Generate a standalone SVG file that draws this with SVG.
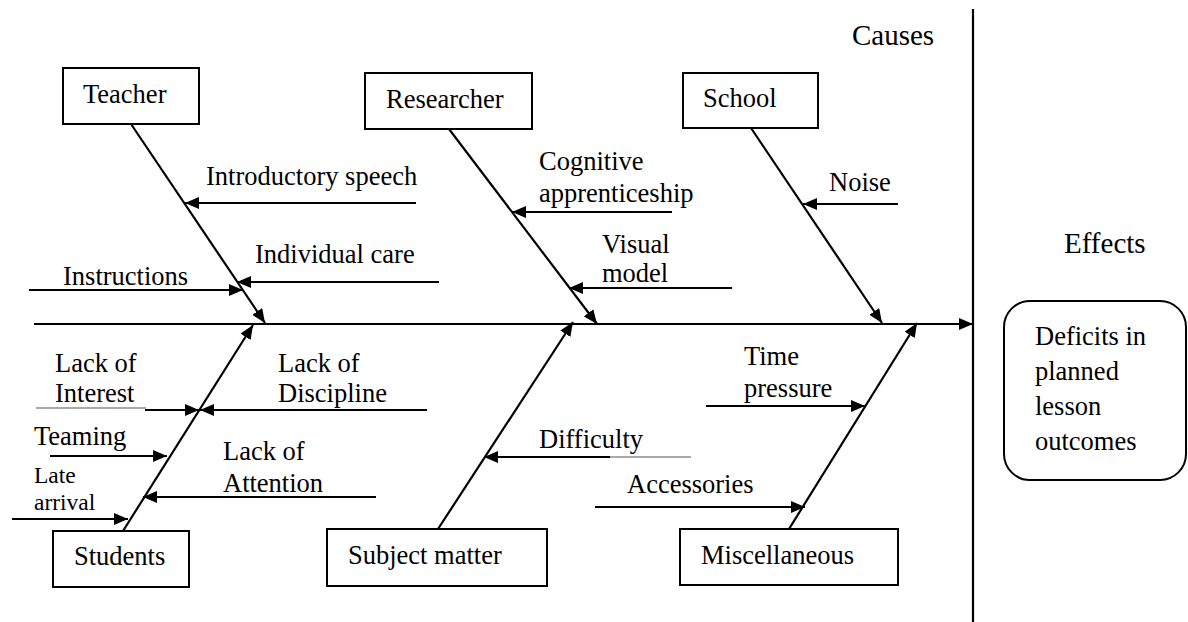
<svg xmlns="http://www.w3.org/2000/svg" width="1188" height="622" viewBox="0 0 1188 622">
<style>
text{font-family:'Liberation Serif','Times New Roman',Tinos,'DejaVu Serif',serif;font-size:26.5px;fill:#000}
.big{font-size:29px}
.sm{font-size:23.5px}
.box{fill:#fff;stroke:#000;stroke-width:2}
.ln{stroke:#000;stroke-width:2.2;fill:none}
.thin{stroke:#555;stroke-width:1.2;fill:none}
</style>
<defs>
<marker id="ah" viewBox="0 0 14 12" refX="14" refY="6" markerWidth="14" markerHeight="12" markerUnits="userSpaceOnUse" orient="auto">
<path d="M0,0 L14,6 L0,12 Z" fill="#000"/>
</marker>
</defs>
<g id="connectors">
<line class="ln" x1="34" y1="324" x2="973" y2="324" marker-end="url(#ah)"/>
<line class="ln" x1="973" y1="9" x2="973" y2="622"/>
<line class="ln" x1="131" y1="124" x2="265" y2="323" marker-end="url(#ah)"/>
<line class="ln" x1="449" y1="129" x2="597" y2="324" marker-end="url(#ah)"/>
<line class="ln" x1="751" y1="128" x2="882" y2="323" marker-end="url(#ah)"/>
<line class="ln" x1="123" y1="531" x2="253" y2="325" marker-end="url(#ah)"/>
<line class="ln" x1="438" y1="529" x2="573" y2="322" marker-end="url(#ah)"/>
<line class="ln" x1="789" y1="529" x2="917" y2="323" marker-end="url(#ah)"/>
<line class="ln" x1="416" y1="203" x2="185" y2="203" marker-end="url(#ah)"/>
<line class="ln" x1="439" y1="282" x2="237" y2="282" marker-end="url(#ah)"/>
<line class="ln" x1="29" y1="290" x2="243" y2="290" marker-end="url(#ah)"/>
<line class="ln" x1="672" y1="212" x2="512" y2="212" marker-end="url(#ah)"/>
<line class="ln" x1="732" y1="288" x2="569" y2="288" marker-end="url(#ah)"/>
<line class="ln" x1="898" y1="204" x2="803" y2="204" marker-end="url(#ah)"/>
<line class="thin" x1="36" y1="408" x2="146" y2="408"/>
<line class="ln" x1="145" y1="410" x2="199" y2="410" marker-end="url(#ah)"/>
<line class="ln" x1="427" y1="410" x2="200" y2="410" marker-end="url(#ah)"/>
<line class="ln" x1="50" y1="456" x2="167" y2="456" marker-end="url(#ah)"/>
<line class="ln" x1="12" y1="519" x2="128" y2="519" marker-end="url(#ah)"/>
<line class="ln" x1="376" y1="497" x2="143" y2="497" marker-end="url(#ah)"/>
<line class="thin" x1="691" y1="457" x2="608" y2="457"/>
<line class="ln" x1="610" y1="457" x2="484" y2="457" marker-end="url(#ah)"/>
<line class="ln" x1="706" y1="406" x2="865" y2="406" marker-end="url(#ah)"/>
<line class="ln" x1="595" y1="507" x2="805" y2="507" marker-end="url(#ah)"/>
</g>
<g id="teacher"><rect class="box" x="63" y="68" width="136" height="56"/><text x="83" y="103">Teacher</text></g>
<g id="researcher"><rect class="box" x="365" y="73" width="167" height="56"/><text x="386" y="108">Researcher</text></g>
<g id="school"><rect class="box" x="683" y="73" width="135" height="55"/><text x="703" y="107">School</text></g>
<g id="students"><rect class="box" x="53" y="531" width="136" height="56"/><text x="74" y="565">Students</text></g>
<g id="subject"><rect class="box" x="327" y="529" width="220" height="57"/><text x="348" y="564">Subject matter</text></g>
<g id="misc"><rect class="box" x="680" y="529" width="218" height="56"/><text x="701" y="564">Miscellaneous</text></g>
<g id="effect"><rect class="box" x="1004" y="301" width="182" height="179" rx="26" ry="26"/>
<text x="1035" y="345">Deficits in</text><text x="1035" y="380">planned</text><text x="1035" y="415">lesson</text><text x="1035" y="450">outcomes</text></g>
<g id="labels">
<text class="big" x="852" y="45">Causes</text>
<text class="big" x="1064" y="253">Effects</text>
<text x="206" y="185">Introductory speech</text>
<text x="255" y="263">Individual care</text>
<text x="63" y="285">Instructions</text>
<text x="539" y="170">Cognitive</text>
<text x="539" y="202">apprenticeship</text>
<text x="602" y="253">Visual</text>
<text x="602" y="282">model</text>
<text x="829" y="191">Noise</text>
<text x="55" y="372">Lack of</text>
<text x="55" y="402">Interest</text>
<text x="278" y="372">Lack of</text>
<text x="278" y="402">Discipline</text>
<text x="34" y="445">Teaming</text>
<text class="sm" x="34" y="483">Late</text>
<text class="sm" x="34" y="510">arrival</text>
<text x="223" y="460">Lack of</text>
<text x="223" y="492">Attention</text>
<text x="539" y="448">Difficulty</text>
<text x="744" y="365">Time</text>
<text x="744" y="397">pressure</text>
<text x="627" y="493">Accessories</text>
</g>
</svg>
